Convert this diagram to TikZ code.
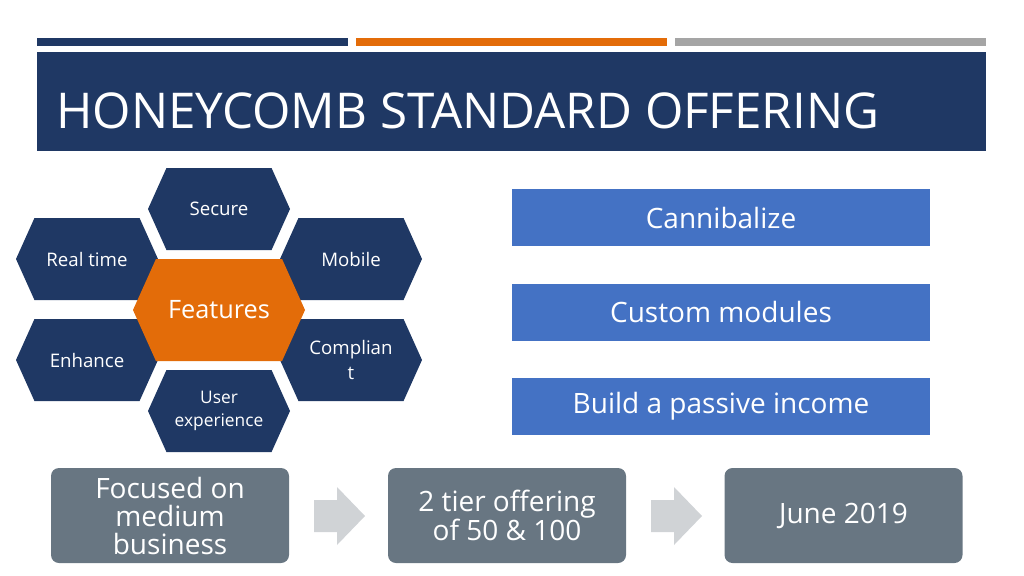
\documentclass[tikz,border=0pt]{standalone}
\usepackage{fontspec}
\setmainfont{Open Sans}
\definecolor{navy}{HTML}{1F3864}
\definecolor{orng}{HTML}{E36C09}
\definecolor{gbar}{HTML}{A5A5A5}
\definecolor{blu}{HTML}{4472C4}
\definecolor{slate}{HTML}{687682}
\definecolor{arr}{HTML}{D0D3D6}
\newcommand\myhex[6]{% name, cx, cy, hw, hh, color
  \fill[#6] (#2-#4,#3) -- (#2-#4+0.45*#5,#3-#5) -- (#2+#4-0.45*#5,#3-#5) -- (#2+#4,#3) -- (#2+#4-0.45*#5,#3+#5) -- (#2-#4+0.45*#5,#3+#5) -- cycle;
  \coordinate (#1) at (#2,#3);}
\begin{document}
\begin{tikzpicture}[x=0.75pt,y=-0.75pt,
  ht/.style={text=white,font=\fontsize{14}{17}\selectfont,align=center},
  rb/.style={fill=blu,minimum width=418*0.75pt,minimum height=57*0.75pt,text=white,font=\fontsize{21}{24}\selectfont,inner sep=0},
  gb/.style={fill=slate,rounded corners=6pt,minimum width=238*0.75pt,minimum height=95*0.75pt,text=white,font=\fontsize{21}{21}\selectfont,align=center,inner sep=0},
  ar/.style={fill=arr}]
\useasboundingbox (0,0) rectangle (1024,575);
\fill[navy] (37,38) rectangle (348,46);
\fill[orng] (356,38) rectangle (667,46);
\fill[gbar] (675,38) rectangle (986,46);
\fill[navy] (37,52) rectangle (986,151);
\node[anchor=west,text=white,font=\fontsize{37}{40}\selectfont,inner sep=0] (title) at (56,111) {HONEYCOMB STANDARD OFFERING};
\myhex{h1}{219}{209}{71}{41}{navy}
\myhex{h2}{87}{259}{71}{41}{navy}
\myhex{h3}{351}{259}{71}{41}{navy}
\myhex{h5}{87}{360}{71}{41}{navy}
\myhex{h6}{351}{360}{71}{41}{navy}
\myhex{h7}{219}{411}{71}{41}{navy}
\myhex{h4}{219}{310}{86}{51}{orng}
\node[ht] (t1) at (h1) {Secure};
\node[ht] (t2) at (h2) {Real time};
\node[ht] (t3) at (h3) {Mobile};
\node[ht] (t5) at (h5) {Enhance};
\node[ht,font=\fontsize{14}{19}\selectfont] (t6) at (h6) {Complian\\t};
\node[ht,font=\fontsize{13}{17}\selectfont] (t7) at (h7) {User\\experience};
\node[ht,font=\fontsize{19}{22}\selectfont] (t4) at (h4) {Features};
\node[rb] (r1) at (721,217.5) {Cannibalize};
\node[rb] (r2) at (721,312) {Custom modules};
\node[rb] (r3) at (721,406) {Build a passive income};
\node[gb] (g1) at (170,515.5) {Focused on\\medium\\business};
\node[gb] (g2) at (507,515.5) {2 tier offering\\of 50 \& 100};
\node[gb] (g3) at (843.5,515.5) {June 2019};
\fill[ar] (314,500) -- (337,500) -- (337,487) -- (365,516) -- (337,545) -- (337,532) -- (314,532) -- cycle;
\fill[ar] (651,500) -- (674,500) -- (674,487) -- (702,516) -- (674,545) -- (674,532) -- (651,532) -- cycle;
\end{tikzpicture}
\end{document}
